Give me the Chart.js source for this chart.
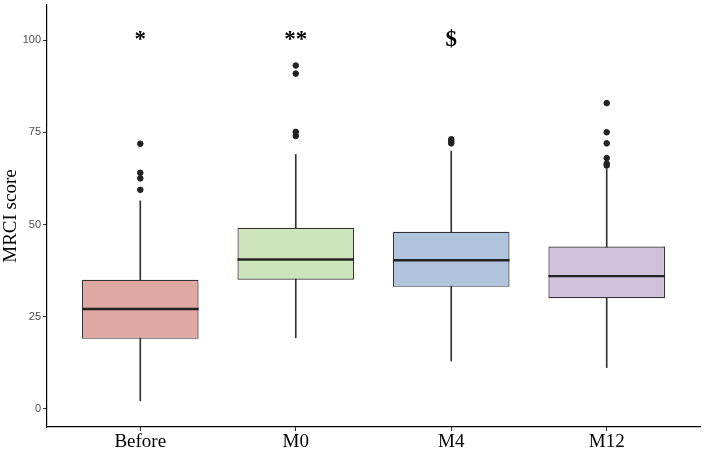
<!DOCTYPE html>
<html>
<head>
<meta charset="utf-8">
<script src="https://cdn.jsdelivr.net/npm/chart.js@4"></script>
<style>
  html, body { margin: 0; padding: 0; background: #fff; }
  #wrap { width: 705px; height: 449px; }
</style>
</head>
<body>
<div id="wrap"><canvas id="chart"></canvas></div>
<script>
// categories and box statistics
const groups = ['Before', 'M0', 'M4', 'M12'];
const whiskerLow = [2.2, 19.3, 13.0, 11.2];
const q1 = [19.0, 35.0, 33.1, 30.0];
const medians = [27.1, 40.5, 40.3, 36.0];
const q3 = [35.0, 49.1, 48.0, 44.0];
const whiskerHigh = [56.4, 69.0, 69.9, 65.0];
const outliers = [
  [71.9, 64.0, 62.5, 59.4],
  [93.1, 90.9, 75.1, 74.0],
  [73.1, 72.5, 72.0],
  [82.9, 75.0, 72.0, 68.0, 66.5, 66.0]
];
const marks = ['*', '**', '$', ''];
const markLevel = 100;
const yTicks = [0, 25, 50, 75, 100];

const fills = ['#e0a8a2', '#cde5bb', '#b0c4de', '#d1c1dd'];

// build the chart data from the arrays above
const boxData = groups.map((g, i) => ({ x: i, y: [q1[i], q3[i]] }));
const whiskerData = groups.map((g, i) => ({ x: i, y: [whiskerLow[i], whiskerHigh[i]] }));
const outlierData = [];
outliers.forEach((list, i) => list.forEach(v => outlierData.push({ x: i, y: v })));

// medians and the significance marks
const boxExtras = {
  id: 'boxExtras',
  afterDatasetsDraw(chart) {
    const ctx = chart.ctx;
    const xs = chart.scales.x, ys = chart.scales.y;
    const meta = chart.getDatasetMeta(1);
    ctx.save();
    meta.data.forEach((bar, i) => {
      const half = bar.width / 2;
      const y = ys.getPixelForValue(medians[i]);
      ctx.strokeStyle = '#222';
      ctx.lineWidth = 2.4;
      ctx.beginPath();
      ctx.moveTo(bar.x - half, y);
      ctx.lineTo(bar.x + half, y);
      ctx.stroke();
    });
    ctx.fillStyle = '#000';
    ctx.font = 'bold 23px "Liberation Serif"';
    ctx.textAlign = 'center';
    ctx.textBaseline = 'alphabetic';
    marks.forEach((m, i) => {
      if (!m) return;
      ctx.fillText(m, xs.getPixelForValue(i), ys.getPixelForValue(markLevel) + 6);
    });
    ctx.restore();
  }
};

new Chart(document.getElementById('chart'), {
  type: 'bar',
  data: {
    datasets: [
      {
        type: 'scatter',
        data: outlierData,
        backgroundColor: '#222',
        borderColor: '#222',
        pointRadius: 2.8,
        order: 1
      },
      {
        data: boxData,
        backgroundColor: fills,
        borderColor: '#333',
        borderWidth: 1.2,
        borderSkipped: false,
        grouped: false,
        barPercentage: 0.75,
        categoryPercentage: 1,
        order: 2
      },
      {
        data: whiskerData,
        backgroundColor: '#333',
        borderWidth: 0,
        grouped: false,
        barThickness: 1,
        order: 3
      }
    ]
  },
  options: {
    responsive: true,
    maintainAspectRatio: false,
    animation: false,
    layout: { padding: { top: 0, right: 2, left: 0, bottom: 0 } },
    plugins: { legend: { display: false }, tooltip: { enabled: false } },
    scales: {
      x: {
        type: 'linear',
        offset: false,
        min: -0.6,
        max: 3.6,
        afterBuildTicks: s => { s.ticks = groups.map((g, i) => ({ value: i })); },
        afterFit: s => { s.height = 22; s.paddingLeft = 0; s.paddingRight = 0; },
        border: { display: true, color: '#000', width: 1.2 },
        grid: { offset: false, drawOnChartArea: false, drawTicks: true, tickLength: 4, color: '#333' },
        ticks: {
          callback: v => groups[v],
          color: '#000',
          padding: 0,
          maxRotation: 0,
          font: { family: '"Liberation Serif"', size: 19 }
        }
      },
      y: {
        min: -4.9,
        max: 109.5,
        afterBuildTicks: s => { s.ticks = yTicks.map(v => ({ value: v })); },
        afterFit: s => { s.width = 47; s.paddingTop = 0; s.paddingBottom = 0; },
        border: { display: true, color: '#000', width: 1.2 },
        grid: { drawOnChartArea: false, drawTicks: true, tickLength: 4, color: '#333' },
        title: {
          display: true,
          text: 'MRCI score',
          color: '#000',
          padding: { top: 0, bottom: 2 },
          font: { family: '"Liberation Serif"', size: 19 }
        },
        ticks: {
          color: '#4d4d4d',
          padding: 2,
          font: { family: '"Liberation Sans"', size: 11 }
        }
      }
    }
  },
  plugins: [boxExtras]
});
</script>
</body>
</html>
